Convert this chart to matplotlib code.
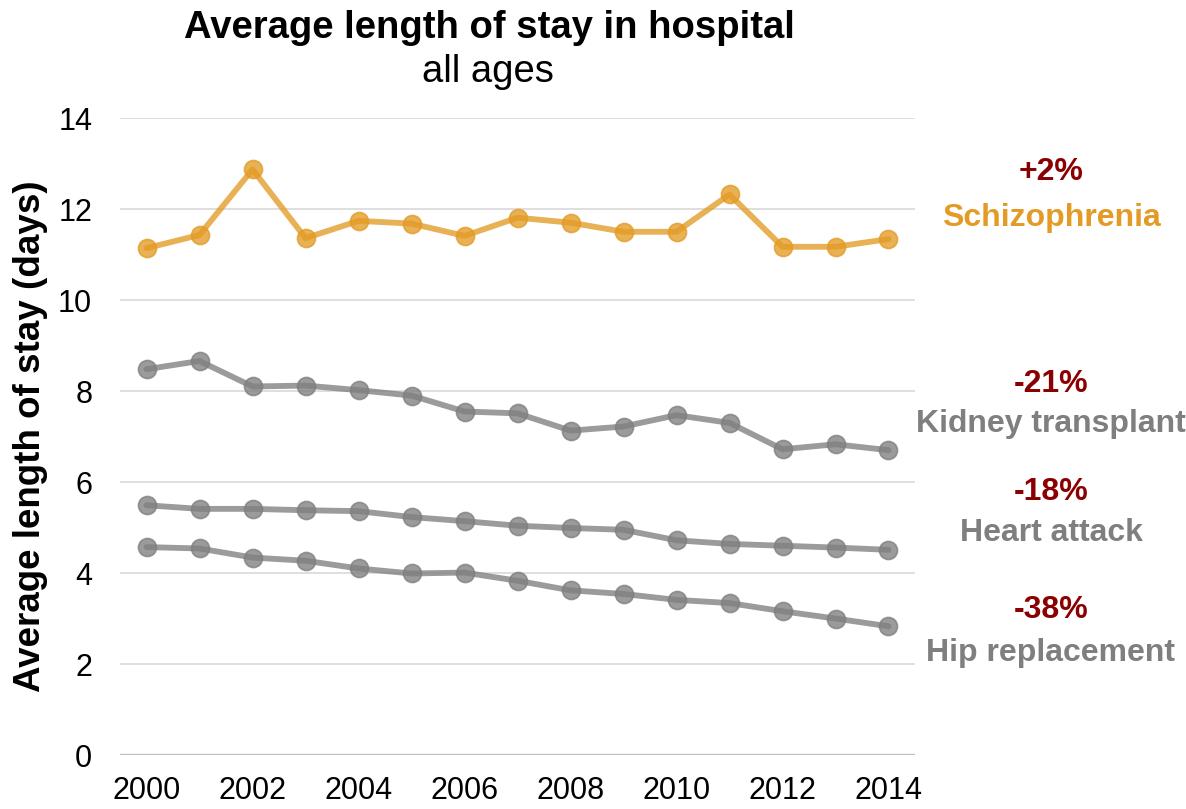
import matplotlib
matplotlib.use('Agg')
import matplotlib.pyplot as plt

plt.rcParams['font.family'] = ['Liberation Sans', 'DejaVu Sans']

# Data
years = list(range(2000, 2015))
schizophrenia = [11.14, 11.43, 12.87, 11.36, 11.74, 11.68, 11.41, 11.81,
                 11.70, 11.50, 11.50, 12.32, 11.17, 11.17, 11.34]
kidney_transplant = [8.48, 8.66, 8.10, 8.12, 8.02, 7.90, 7.55, 7.51,
                     7.13, 7.22, 7.47, 7.30, 6.72, 6.83, 6.70]
heart_attack = [5.49, 5.41, 5.41, 5.38, 5.36, 5.23, 5.14, 5.04,
                4.99, 4.95, 4.72, 4.64, 4.60, 4.56, 4.51]
hip_replacement = [4.57, 4.54, 4.34, 4.27, 4.10, 3.99, 4.01, 3.83,
                   3.62, 3.54, 3.41, 3.34, 3.16, 3.00, 2.83]

series_names = ['Schizophrenia', 'Kidney transplant', 'Heart attack', 'Hip replacement']
changes = ['+2%', '-21%', '-18%', '-38%']
y_ticks = [0, 2, 4, 6, 8, 10, 12, 14]
x_ticks = [2000, 2002, 2004, 2006, 2008, 2010, 2012, 2014]

ORANGE = '#E39B25'
GREY = '#7F7F7F'
DARKRED = '#8B0000'

fig = plt.figure(figsize=(11.86, 8.09), dpi=100)
ax = fig.add_axes([0.1012, 0.0667, 0.6703, 0.7874])

all_series = [schizophrenia, kidney_transplant, heart_attack, hip_replacement]
colors = [ORANGE, GREY, GREY, GREY]
for vals, c in zip(all_series, colors):
    ax.plot(years, vals, color=c, alpha=0.78, linewidth=4.2, marker='o',
            markersize=13, markerfacecolor=c, markeredgecolor=c,
            markeredgewidth=1.2, zorder=3, solid_capstyle='round')

ax.set_xlim(1999.5, 2014.5)
ax.set_ylim(0, 14)
ax.set_yticks(y_ticks)
ax.set_xticks(x_ticks)
ax.tick_params(axis='both', length=0, labelsize=22, colors='black')
ax.tick_params(axis='y', pad=20)
ax.tick_params(axis='x', pad=15)

for y in y_ticks[1:]:
    ax.axhline(y, color='#D9D9D9', linewidth=1.2, zorder=1)
ax.axhline(0, color='#BFBFBF', linewidth=2.4, zorder=1)
for s in ax.spines.values():
    s.set_visible(False)

ax.set_ylabel('Average length of stay (days)', fontsize=26.5, fontweight='bold')
ax.yaxis.set_label_coords(-0.0906, 0.5)

fig.text(0.413, 0.966, 'Average length of stay in hospital', ha='center', va='center',
         fontsize=27.5, fontweight='bold')
fig.text(0.411, 0.911, 'all ages', ha='center', va='center', fontsize=27.5)

# Right-hand annotations (pixel y positions from the reference)
label_x = 1051 / 1186
pct_y = [172, 384, 492, 610]
name_y = [218, 424, 533, 653]
for name, ch, py, ny, c in zip(series_names, changes, pct_y, name_y, colors):
    fig.text(label_x, 1 - py / 809, ch, ha='center', va='center', fontsize=23,
             fontweight='bold', color=DARKRED)
    fig.text(label_x, 1 - ny / 809, name, ha='center', va='center', fontsize=23,
             fontweight='bold', color=c)

fig.savefig('out.png', dpi=100)
